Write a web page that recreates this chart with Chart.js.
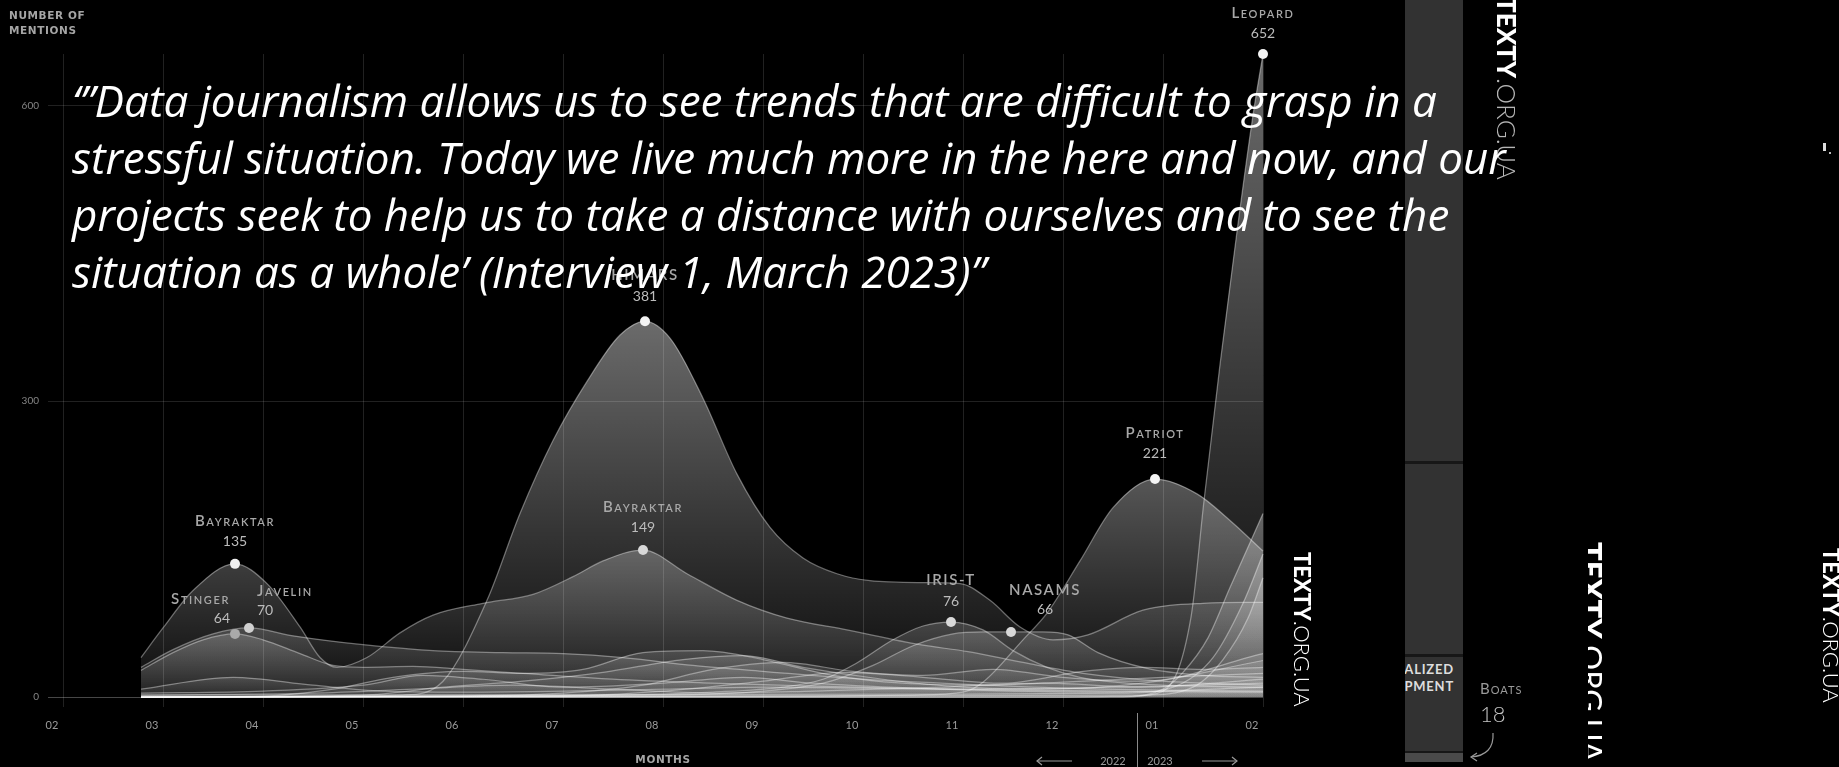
<!DOCTYPE html>
<html>
<head>
<meta charset="utf-8">
<script src="https://cdn.jsdelivr.net/npm/chart.js@4.4.0/dist/chart.umd.min.js"></script>
<style>
html,body{margin:0;padding:0;background:#000;width:1839px;height:767px;overflow:hidden;}
#wrap{position:relative;width:1839px;height:767px;overflow:hidden;}
#c{position:absolute;left:0;top:0;}
.abs{position:absolute;white-space:nowrap;}
.cap{font-family:"DejaVu Sans",sans-serif;font-weight:bold;font-size:10.5px;color:#a5a5a5;line-height:15px;letter-spacing:0.6px;}
.yr{font-family:Lato,sans-serif;font-size:11px;color:#9a9a9a;line-height:14px;}
#quote{left:72px;font-family:"Open Sans",sans-serif;font-style:italic;color:#fff;line-height:57px;}
.tx{position:absolute;transform:rotate(90deg);transform-origin:0 0;line-height:1;font-family:Lato,sans-serif;color:#fff;white-space:nowrap;}
.tx b{font-weight:900;}
.tx span{font-weight:300;}
</style>
</head>
<body>
<div id="wrap">
<canvas id="c" width="1839" height="767"></canvas>

<div class="abs cap" style="left:9px;top:8px;">NUMBER OF<br>MENTIONS</div>
<div class="abs cap" style="left:663px;top:752px;transform:translateX(-50%);">MONTHS</div>

<div class="abs yr" style="left:1113px;top:754px;transform:translateX(-50%);">2022</div>
<div class="abs yr" style="left:1160px;top:754px;transform:translateX(-50%);">2023</div>
<div class="abs" style="left:1137px;top:713px;width:1px;height:54px;background:#8a8a8a;"></div>
<svg class="abs" style="left:0;top:0;" width="1839" height="767">
  <g stroke="#9a9a9a" stroke-width="1.2" fill="none">
    <line x1="1037" y1="761" x2="1072" y2="761"/>
    <polyline points="1042,757 1037,761 1042,765"/>
    <line x1="1202" y1="761" x2="1237" y2="761"/>
    <polyline points="1232,757 1237,761 1232,765"/>
    <path d="M1493,733 C1494,748 1486,756 1471,757"/>
    <polyline points="1477,753 1471,757 1477,761"/>
  </g>
</svg>

<!-- side bar -->
<div class="abs" style="left:1405px;top:0;width:58px;height:762px;background:#323232;"></div>
<div class="abs" style="left:1405px;top:461px;width:58px;height:3px;background:#171717;"></div>
<div class="abs" style="left:1405px;top:654px;width:58px;height:3px;background:#171717;"></div>
<div class="abs" style="left:1405px;top:751px;width:58px;height:2px;background:#171717;"></div>
<div class="abs" style="left:1405px;top:753px;width:58px;height:9px;background:#4a4a4a;"></div>
<div class="abs" style="left:1405px;top:660px;width:58px;height:40px;overflow:hidden;">
  <div style="position:absolute;right:9px;top:1px;text-align:right;font-family:Lato,sans-serif;font-weight:bold;font-size:13px;line-height:17px;color:#dedede;letter-spacing:0.8px;white-space:nowrap;">SPECIALIZED<br>EQUIPMENT</div>
</div>
<div class="abs" style="left:1480px;top:681px;font-family:Lato,sans-serif;font-variant:small-caps;font-size:15px;line-height:15px;color:#9a9a9a;letter-spacing:1px;">Boats</div>
<div class="abs" style="left:1480px;top:703px;font-family:Lato,sans-serif;font-weight:300;font-size:22px;line-height:22px;color:#c4c4c4;">18</div>

<!-- watermarks -->
<div class="tx" style="left:1520px;top:-3px;font-size:26px;"><b>TEXTY</b><span style="color:#b5b5b5">.ORG.UA</span></div>
<div class="tx" style="left:1313px;top:552px;font-size:22px;"><b>TEXTY</b><span>.ORG.UA</span></div>
<div class="abs" style="left:1588px;top:538px;width:40px;height:225px;overflow:hidden;">
  <div class="tx" style="left:19px;top:4px;font-size:31px;"><b>TEXTY</b><span style="font-weight:400">.ORG.UA</span></div>
</div>
<div class="tx" style="left:1842px;top:548px;font-size:22px;"><b>TEXTY</b><span>.ORG.UA</span></div>
<div class="abs" style="left:1823px;top:143px;width:3px;height:8px;background:#ddd;"></div>
<div class="abs" style="left:1829px;top:152px;width:2px;height:2px;background:#bbb;"></div>

<div id="quote" class="abs"></div>
</div>

<script>
// ---------- DATA ----------
const monthLabels = ['02','03','04','05','06','07','08','09','10','11','12','01','02'];
const yTickValues = [0, 300, 600];

// x = months since 1 Feb 2022, y = number of mentions
const himars = [[0.78,0],[2.5,1],[3.4,2],[3.8,16],[4.24,98],[4.57,186],[4.9,260],[5.24,320],[5.57,367],[5.82,381],[6.07,364],[6.4,303],[6.74,226],[7.07,172],[7.4,141],[7.74,125],[8.07,118],[8.6,116],[8.97,115],[9.27,98],[9.57,71],[9.9,58],[10.25,63],[10.8,88],[11.4,95],[12,96]];
const bayraktar = [[0.78,40],[1.0,70],[1.3,108],[1.72,135],[2.04,115],[2.37,71],[2.57,40],[2.74,30],[3.04,40],[3.37,65],[3.7,83],[4.2,95],[4.7,104],[5.1,122],[5.4,138],[5.8,149],[6.24,125],[6.74,98],[7.24,80],[7.84,68],[8.57,53],[9.05,46],[9.6,35],[10.2,24],[11,16],[12,12]];
const stinger = [[0.78,27],[1.1,45],[1.4,58],[1.72,64],[2.0,58],[2.37,44],[2.7,32],[3.0,30],[3.5,31],[4.0,28],[4.6,24],[5.5,18],[6.5,14],[7.5,11],[8.5,9],[9.5,7],[10.5,6],[12,5]];
const javelin = [[0.78,30],[1.1,48],[1.5,64],[1.86,70],[2.3,62],[3.0,53],[3.7,47],[4.4,45],[5.0,44],[5.6,40],[6.3,32],[7.0,26],[8.0,18],[9.0,13],[10,9],[11,7],[12,6]];
const irisT = [[0.78,0],[5.5,2],[6.5,5],[7.2,10],[7.6,18],[7.93,34],[8.3,58],[8.6,72],[8.88,76],[9.2,68],[9.5,47],[9.84,30],[10.17,20],[10.8,13],[12,10]];
const nasams = [[0.78,0],[6,2],[7,6],[7.6,14],[8.1,32],[8.5,52],[8.9,64],[9.2,66],[9.48,66],[9.8,66],[10.05,63],[10.35,45],[10.84,29],[11.4,22],[12,20]];
const patriot = [[0.78,0],[7.5,1],[8.5,2],[9.0,5],[9.2,15],[9.6,58],[9.84,85],[10.17,138],[10.5,192],[10.92,221],[11.34,206],[11.67,179],[12,148]];
const leopard = [[0.78,0],[10,0],[10.7,1],[11.0,6],[11.28,81],[11.41,199],[11.57,337],[11.74,472],[11.9,590],[12,652]];
const abrams = [[0.78,0],[10.6,0],[11.0,8],[11.2,25],[11.45,60],[11.67,111],[12,186]];
const bradley = [[0.78,2],[9,3],[10.6,4],[11.1,10],[11.5,40],[11.8,95],[12,145]];
const marder = [[0.78,0],[10.8,2],[11.3,10],[11.6,38],[11.85,80],[12,121]];
const other1 = [[0.78,8],[1.7,20],[2.5,12],[3.2,6],[4,5],[5,6],[6,8],[7,10],[8,9],[9,8],[10,9],[11,11],[12,14]];
const other2 = [[0.78,0],[2.0,1],[2.7,8],[3.3,20],[4,26],[4.6,24],[5.2,28],[5.8,45],[6.4,47],[7,38],[7.7,22],[8.4,14],[9.2,12],[10,15],[11,20],[12,24]];
const other3 = [[0.78,0],[3,2],[3.8,10],[4.6,16],[5.4,25],[6.2,38],[6.8,42],[7.4,30],[8.2,18],[9,10],[9.8,8],[10.8,14],[12,37]];
const other4 = [[0.78,0],[4,1],[5,4],[5.8,12],[6.5,28],[7.2,35],[7.9,26],[8.6,22],[9.3,28],[10,20],[10.8,16],[12,44]];
const other5 = [[0.78,4],[2,6],[3,12],[3.6,22],[4.2,18],[5,10],[6,14],[6.8,20],[7.5,14],[8.5,9],[9.5,6],[10.5,5],[12,10]];
const other6 = [[0.78,0],[5,1],[6,6],[7,16],[7.8,25],[8.6,20],[9.4,14],[10.2,26],[10.8,30],[11.4,28],[12,30]];
const other7 = [[0.78,2],[2.5,4],[3.5,8],[4.5,12],[5.5,8],[6.5,4],[7.5,6],[8.8,10],[9.8,14],[10.8,10],[12,18]];

const seriesNames = ['Bayraktar','Stinger','Javelin','HIMARS','IRIS-T','NASAMS','Patriot','Leopard','Abrams','Bradley','Marder','Other 1','Other 2','Other 3','Other 4','Other 5','Other 6','Other 7'];
const seriesData = [bayraktar, stinger, javelin, himars, irisT, nasams, patriot, leopard, abrams, bradley, marder, other1, other2, other3, other4, other5, other6, other7];

// labelled peaks: series name + month of the peak
const peakNames  = ['Bayraktar','Stinger','Javelin','HIMARS','Bayraktar','IRIS-T','NASAMS','Patriot','Leopard'];
const peakMonths = [1.72, 1.72, 1.86, 5.82, 5.8, 8.88, 9.48, 10.92, 12];

const quoteLines = [
  '\u2018\u201DData journalism allows us to see trends that are difficult to grasp in a',
  'stressful situation. Today we live much more in the here and now, and our',
  'projects seek to help us to take a distance with ourselves and to see the',
  'situation as a whole\u2019 (Interview 1, March 2023)\u201D'
];

// ---------- STYLE (not data) ----------
const peakLabelStyle = [
  {align:'center', dx:0,  nameUp:43, valueUp:22, dot:'#f0f0f0'},
  {align:'right',  dx:-5, nameUp:35, valueUp:15, dot:'#9c9c9c'},
  {align:'left',   dx:8,  nameUp:37, valueUp:17, dot:'#c8c8c8'},
  {align:'center', dx:0,  nameUp:46, valueUp:25, dot:'#f4f4f4'},
  {align:'center', dx:0,  nameUp:43, valueUp:23, dot:'#d8d8d8'},
  {align:'center', dx:0,  nameUp:42, valueUp:21, dot:'#d4d4d4'},
  {align:'center', dx:34, nameUp:42, valueUp:22, dot:'#d4d4d4'},
  {align:'center', dx:0,  nameUp:46, valueUp:26, dot:'#f4f4f4'},
  {align:'center', dx:0,  nameUp:41, valueUp:21, dot:'#f4f4f4'}
];

// resolve peaks -> dataset / point indices
const peakRefs = peakNames.map((n, i) => {
  const ds = seriesNames.indexOf(n);
  const idx = seriesData[ds].findIndex(p => Math.abs(p[0] - peakMonths[i]) < 1e-6);
  return {ds, idx, i};
});
const peakMap = {};
peakRefs.forEach(r => { peakMap[r.ds + ':' + r.idx] = r.i; });

function fillGradient(c) {
  const chart = c.chart;
  const ca = chart.chartArea;
  if (!ca) return 'rgba(255,255,255,0.15)';
  const data = seriesData[c.datasetIndex];
  let m = 0;
  data.forEach(p => { if (p[1] > m) m = p[1]; });
  const top = chart.scales.y.getPixelForValue(m);
  const a = 0.10 + 0.32 * Math.min(1, m / 300);
  const g = chart.ctx.createLinearGradient(0, top, 0, ca.bottom);
  g.addColorStop(0, 'rgba(255,255,255,' + a.toFixed(3) + ')');
  g.addColorStop(1, 'rgba(255,255,255,0.04)');
  return g;
}

const datasets = seriesData.map((d, i) => ({
  label: seriesNames[i],
  data: d,
  fill: 'origin',
  backgroundColor: fillGradient,
  borderColor: 'rgba(255,255,255,0.38)',
  borderWidth: 1.25,
  cubicInterpolationMode: 'monotone',
  clip: 10,
  pointRadius: c => (peakMap[c.datasetIndex + ':' + c.dataIndex] !== undefined ? 5 : 0),
  pointBackgroundColor: c => {
    const k = peakMap[c.datasetIndex + ':' + c.dataIndex];
    return k !== undefined ? peakLabelStyle[k].dot : 'rgba(0,0,0,0)';
  },
  pointBorderWidth: 0,
  pointHoverRadius: 0
}));

const peakLabelPlugin = {
  id: 'peakLabels',
  afterDatasetsDraw(chart) {
    const ctx = chart.ctx;
    peakRefs.forEach(r => {
      const pt = chart.getDatasetMeta(r.ds).data[r.idx];
      const st = peakLabelStyle[r.i];
      const value = seriesData[r.ds][r.idx][1];
      const x = pt.x + st.dx;
      ctx.save();
      ctx.textAlign = st.align;
      ctx.textBaseline = 'middle';
      ctx.font = 'small-caps 600 15px Lato';
      try { ctx.letterSpacing = '1.6px'; } catch (e) {}
      ctx.fillStyle = '#a8a8a8';
      ctx.fillText(peakNames[r.i], x, pt.y - st.nameUp);
      try { ctx.letterSpacing = '0px'; } catch (e) {}
      ctx.font = '14px Lato';
      ctx.fillStyle = '#bcbcbc';
      ctx.fillText(String(value), x, pt.y - st.valueUp);
      ctx.restore();
    });
  }
};

new Chart(document.getElementById('c'), {
  type: 'line',
  data: { datasets },
  plugins: [peakLabelPlugin],
  options: {
    responsive: false,
    devicePixelRatio: 1,
    animation: false,
    events: [],
    layout: { padding: { top: 54, right: 576, left: 0, bottom: 0 } },
    plugins: { legend: { display: false }, tooltip: { enabled: false } },
    scales: {
      x: {
        type: 'linear', min: 0, max: 12,
        afterFit: s => { s.height = 70; },
        border: { display: false },
        grid: { color: 'rgba(255,255,255,0.13)', tickLength: 10, tickColor: 'rgba(255,255,255,0.13)' },
        ticks: {
          stepSize: 1, autoSkip: false, maxRotation: 0, minRotation: 0,
          labelOffset: -11, padding: 12, color: '#9a9a9a',
          font: { family: 'Lato', size: 11 },
          callback: v => (monthLabels[v] !== undefined ? monthLabels[v] : '')
        }
      },
      y: {
        min: 0, max: 652,
        afterFit: s => { s.width = 63; },
        border: { display: false },
        grid: {
          color: c => (c.tick && c.tick.value === 0 ? 'rgba(255,255,255,0.28)' : 'rgba(255,255,255,0.13)'),
          tickLength: 15
        },
        afterBuildTicks: s => { s.ticks = yTickValues.map(v => ({ value: v })); },
        ticks: {
          includeBounds: false, padding: 9, color: '#858585',
          font: { family: 'Lato', size: 10 },
          callback: v => String(v)
        }
      }
    }
  }
});

// quote overlay
const q = document.getElementById('quote');
q.innerHTML = quoteLines.map(l => l.replace(/&/g,'&amp;').replace(/</g,'&lt;')).join('<br>');
const mc = document.createElement('canvas').getContext('2d');
mc.font = 'italic 100px "Open Sans"';
const w = mc.measureText(quoteLines[0]).width;
const fs = 100 * 1365 / w;
q.style.fontSize = fs.toFixed(2) + 'px';
const baseOff = (57 - 1.362 * fs) / 2 + 1.069 * fs;
q.style.top = (118 - baseOff).toFixed(1) + 'px';
</script>
</body>
</html>
